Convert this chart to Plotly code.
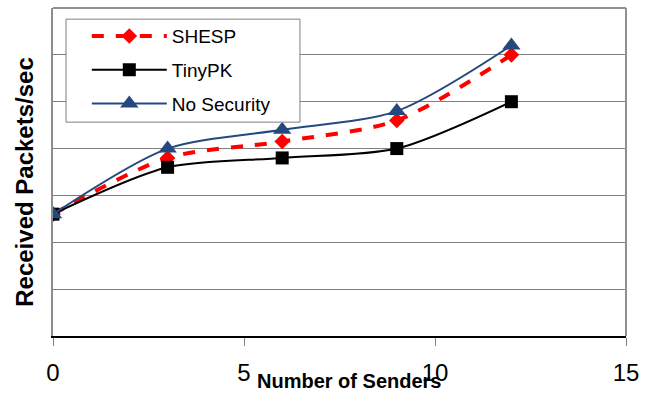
import plotly.graph_objects as go

# Number of sending nodes
senders = [0, 3, 6, 9, 12]

# Received packets per second for each scheme
shesp = [2.6, 3.8, 4.15, 4.6, 6.0]
tinypk = [2.6, 3.6, 3.8, 4.0, 5.0]
no_security = [2.6, 4.0, 4.4, 4.8, 6.2]

x_ticks = [0, 5, 10, 15]

FONT = "Liberation Sans, Arial, sans-serif"

fig = go.Figure()

fig.add_trace(go.Scatter(
    x=senders, y=shesp, name="SHESP", mode="lines+markers",
    line=dict(color="#FF0000", width=4, dash="dash", shape="spline", smoothing=0.8),
    marker=dict(symbol="diamond", size=12, color="#FF0000"),
    legendgroup="a",
))
fig.add_trace(go.Scatter(
    x=senders, y=tinypk, name="TinyPK", mode="lines+markers",
    line=dict(color="#000000", width=2, shape="spline", smoothing=0.8),
    marker=dict(symbol="square", size=13, color="#000000"),
    legendgroup="b",
))
fig.add_trace(go.Scatter(
    x=senders, y=no_security, name="No Security", mode="lines+markers",
    line=dict(color="#24497E", width=2, shape="spline", smoothing=0.8),
    marker=dict(symbol="triangle-up", size=16, color="#24497E"),
    legendgroup="c",
))

fig.update_layout(
    width=654, height=395,
    margin=dict(l=53, r=28, t=8, b=59),
    paper_bgcolor="white", plot_bgcolor="white",
    font=dict(family=FONT, color="black"),
    showlegend=True,
    legend=dict(
        x=0.059, y=0.972, xanchor="left", yanchor="top",
        bgcolor="rgba(0,0,0,0)", borderwidth=0,
        font=dict(size=19), itemwidth=75, tracegroupgap=6,
    ),
    xaxis=dict(
        range=[0, 15], tickvals=x_ticks, ticktext=[str(v) for v in x_ticks],
        ticks="outside", ticklen=8, tickcolor="#808080",
        tickfont=dict(size=24), ticklabelstandoff=6,
        showgrid=False, zeroline=False,
        showline=True, linecolor="#000000", linewidth=2,
    ),
    yaxis=dict(
        range=[0, 7], dtick=1, showticklabels=False, ticks="",
        showgrid=True, gridcolor="#808080", gridwidth=1, zeroline=False,
        showline=True, linecolor="#8C8C8C", linewidth=2,
    ),
)

# Light frame on the top and right edges of the plotting area
fig.add_shape(type="line", xref="paper", yref="paper", x0=0, x1=1, y0=1, y1=1,
              line=dict(color="#909090", width=2))
fig.add_shape(type="line", xref="paper", yref="paper", x0=1, x1=1, y0=0, y1=1,
              line=dict(color="#909090", width=2))

# White legend panel with a grey border
fig.add_shape(type="rect", xref="paper", yref="paper",
              x0=0.0227, x1=0.431, y0=0.652, y1=0.966,
              line=dict(color="#7F7F7F", width=1), fillcolor="white", layer="above")

fig.add_annotation(
    text="<b>Number of Senders</b>", xref="paper", yref="paper",
    x=0.517, y=-0.138, xanchor="center", yanchor="middle", showarrow=False,
    font=dict(size=20),
)
fig.add_annotation(
    text="<b>Received Packets/sec</b>", xref="paper", yref="paper",
    x=-0.049, y=0.47, xanchor="center", yanchor="middle", showarrow=False,
    textangle=-90, font=dict(size=24),
)

fig.write_html("out.html")
